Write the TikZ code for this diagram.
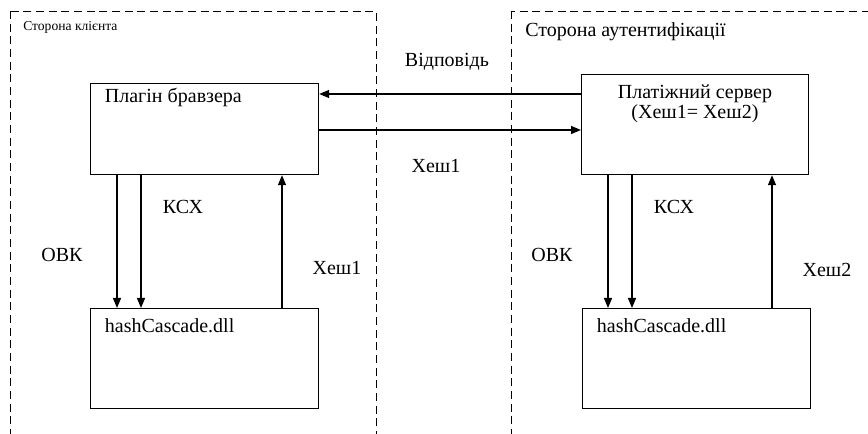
\documentclass[tikz,border=0pt]{standalone}
\usepackage{fontspec}
\setmainfont{Liberation Serif}
\newfontfamily\timesfont{Liberation Serif}
\usetikzlibrary{positioning, arrows.meta}

\begin{document}
\begin{tikzpicture}[x=0.75pt, y=-0.75pt,
    zone/.style={draw, line width=0.7pt, dash pattern=on 6pt off 3.5pt},
    blok/.style={draw, line width=0.9pt, anchor=north west, inner sep=0pt, minimum width=171pt},
    lbl/.style={inner sep=0pt, font=\timesfont\fontsize{15}{13.5}\selectfont},
    arr/.style={line width=1pt, -{Triangle[length=7.5pt, width=6pt]}}]
  \useasboundingbox (0,0) rectangle (868,434);
  \fill[white] (0,0) rectangle (868,434);
  \clip (0,0) rectangle (868,434);

  % zones
  \draw[zone] (10,11) rectangle (376,460);
  \draw[zone] (511,11) rectangle (900,460);
  \node[lbl, anchor=north west, font=\timesfont\fontsize{10.2}{12}\selectfont] (client) at (23,21) {Сторона клієнта};
  \node[lbl, anchor=north west] (auth) at (525,22) {Сторона аутентифікації};

  % blocks
  \node[blok, minimum height=68.25pt] (plugin) at (90,83) {};
  \node[blok, minimum width=170pt, minimum height=75pt] (server) at (581,74) {};
  \node[blok, minimum height=75pt] (dllL) at (90,308) {};
  \node[blok, minimum height=75pt] (dllR) at (582,308) {};

  \node[lbl, below right=4pt and 11pt of plugin.north west] (pluginlbl) {Плагін бравзера};
  \node[lbl, align=center, below=8pt of server.north] (serverlbl) {Платіжний сервер\\(Хеш1= Хеш2)};
  \node[lbl, below right=7.5pt and 11pt of dllL.north west] (dllLlbl) {hashCascade.dll};
  \node[lbl, below right=7.5pt and 11pt of dllR.north west] (dllRlbl) {hashCascade.dll};

  % labels
  \node[lbl] (answer) at (447,62) {Відповідь};
  \node[lbl] (hashmid) at (436,166) {Хеш1};
  \node[lbl] (ksxL) at (183,207) {КСХ};
  \node[lbl] (ksxR) at (674,207) {КСХ};
  \node[lbl] (ovkL) at (62,255) {ОВК};
  \node[lbl] (ovkR) at (552,255) {ОВК};
  \node[lbl] (hashL) at (337,268) {Хеш1};
  \node[lbl] (hashR) at (827,270) {Хеш2};

  % connectors
  \coordinate (h1) at (0,94);
  \coordinate (h2) at (0,130);
  \draw[arr] (h1 -| server.west) -- (h1 -| plugin.east);
  \draw[arr] (h2 -| plugin.east) -- (h2 -| server.west);

  \coordinate (l1) at (117,0);
  \coordinate (l2) at (141,0);
  \coordinate (l3) at (282,0);
  \draw[arr] (l1 |- plugin.south) -- (l1 |- dllL.north);
  \draw[arr] (l2 |- plugin.south) -- (l2 |- dllL.north);
  \draw[arr] (l3 |- dllL.north) -- (l3 |- plugin.south);

  \coordinate (r1) at (608,0);
  \coordinate (r2) at (632,0);
  \coordinate (r3) at (772,0);
  \draw[arr] (r1 |- server.south) -- (r1 |- dllR.north);
  \draw[arr] (r2 |- server.south) -- (r2 |- dllR.north);
  \draw[arr] (r3 |- dllR.north) -- (r3 |- server.south);
\end{tikzpicture}
\end{document}
